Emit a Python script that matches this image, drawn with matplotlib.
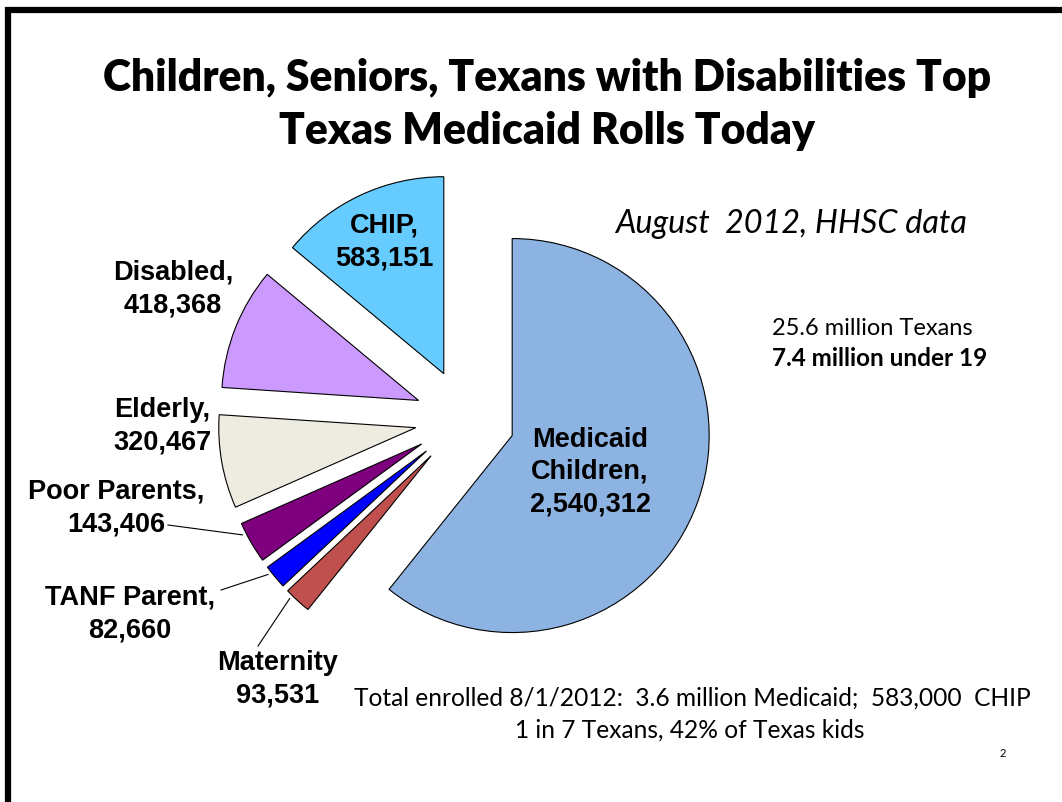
import matplotlib
matplotlib.use("Agg")
import matplotlib.pyplot as plt
import numpy as np

W, H = 1062, 803

groups = ["Medicaid Children", "Maternity", "TANF Parent", "Poor Parents",
          "Elderly", "Disabled", "CHIP"]
enrolled = [2540312, 93531, 82660, 143406, 320467, 418368, 583151]
label_names = ["Medicaid\nChildren,", "Maternity", "TANF Parent,", "Poor Parents,",
               "Elderly,", "Disabled,", "CHIP,"]
colors = ["#8DB3E2", "#C0504D", "#0000FF", "#7F007F", "#EEECE1", "#CC99FF", "#66CCFF"]

# label centres in picture pixels (x, y from top)
label_pos = [(590, 472), (278, 679), (130, 614), (116, 508),
             (162, 426), (173, 289), (384, 242)]
# text-side end of the leader lines
leader_from = {1: (258, 647), 2: (221, 591), 3: (168, 526)}

calibri = ["Lato", "DejaVu Sans"]
arial = ["Liberation Sans", "DejaVu Sans"]

fig = plt.figure(figsize=(W / 100, H / 100), dpi=100)
ax = fig.add_axes([0, 0, 1, 1])

wedges, _ = ax.pie(enrolled, colors=colors, startangle=90, counterclock=False,
                   center=(465, H - 420), radius=197, explode=[50] * len(enrolled),
                   wedgeprops=dict(edgecolor="black", linewidth=0.8))
ax.set_xlim(0, W)
ax.set_ylim(0, H)
ax.axis("off")

for i, (name, val) in enumerate(zip(label_names, enrolled)):
    x, y = label_pos[i]
    ax.text(x, H - y, f"{name}\n{val:,}", ha="center", va="center",
            fontsize=19.5, fontweight="bold", family=arial, linespacing=1.32)

for i, (x0, y0) in leader_from.items():
    w = wedges[i]
    t = np.radians(w.theta1 + 0.25 * (w.theta2 - w.theta1))
    cx, cy = w.center
    ex, ey = cx + (w.r + 4) * np.cos(t), cy + (w.r + 4) * np.sin(t)
    ax.plot([x0, ex], [H - y0, ey], color="black", lw=0.8)

renderer = fig.canvas.get_renderer()


def fit_text(x, y, s, width, **kw):
    t = ax.text(x, H - y, s, family=calibri, va="baseline", **kw)
    w = t.get_window_extent(renderer).width
    t.set_fontsize(t.get_fontsize() * width / w)
    return t


t1 = fit_text(547, 91, "Children, Seniors, Texans with Disabilities Top", 885,
              ha="center", fontsize=30, fontweight="heavy")
ax.text(547, H - 144, "Texas Medicaid Rolls Today", ha="center", va="baseline",
        family=calibri, fontsize=t1.get_fontsize(), fontweight="heavy")

fit_text(615, 233, "August  2012, HHSC data", 352, ha="left", fontsize=20, style="italic")
fit_text(772, 335, "25.6 million Texans", 201, ha="left", fontsize=14)
fit_text(772, 366, "7.4 million under 19", 217, ha="left", fontsize=14, fontweight="bold")
b1 = fit_text(692, 706, "Total enrolled 8/1/2012:  3.6 million Medicaid;  583,000  CHIP", 679,
              ha="center", fontsize=16)
ax.text(690, H - 738, "1 in 7 Texans, 42% of Texas kids", ha="center", va="baseline",
        family=calibri, fontsize=b1.get_fontsize())
ax.text(1003, H - 757, "2", ha="center", va="baseline", family=calibri, fontsize=8)

# slide border (left and top edges)
ax.plot([8, 8, W], [0, H - 11, H - 11], color="black", lw=4.5,
        solid_joinstyle="miter", solid_capstyle="butt")

fig.savefig("out.png", dpi=100)
